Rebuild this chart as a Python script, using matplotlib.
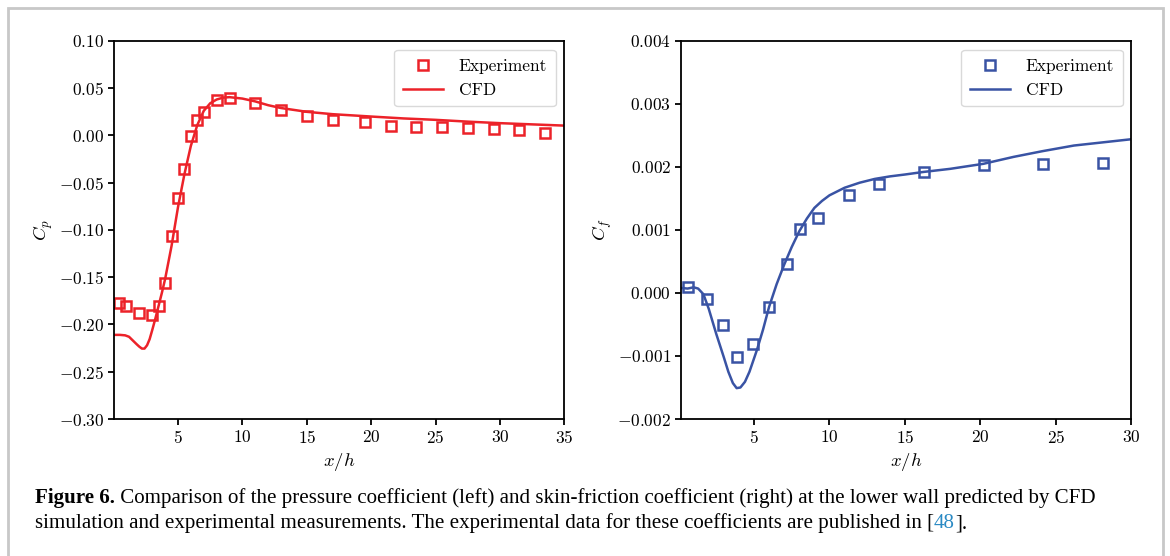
import numpy as np
import matplotlib
matplotlib.use("Agg")
import matplotlib.pyplot as plt
from matplotlib.patches import Rectangle
from matplotlib.ticker import FuncFormatter

plt.rcParams["font.family"] = "serif"
plt.rcParams["font.serif"] = ["cmr10"]
plt.rcParams["mathtext.fontset"] = "cm"
plt.rcParams["axes.formatter.use_mathtext"] = True

RED = "#ec2229"
BLUE = "#3953a4"

# pressure coefficient, lower wall
cp_exp_x = [0.44, 1.0, 2.0, 3.0, 3.5, 4.0, 4.5, 5.0, 5.5, 6.0, 6.5, 7.0, 8.0, 9.0,
            11.0, 13.0, 15.0, 17.0, 19.5, 21.5, 23.5, 25.5, 27.5, 29.5, 31.5, 33.5]
cp_exp = [-0.177, -0.180, -0.188, -0.190, -0.180, -0.156, -0.106, -0.066, -0.036,
          -0.001, 0.016, 0.025, 0.0376, 0.0397, 0.034, 0.027, 0.0206, 0.0164,
          0.0146, 0.0104, 0.009, 0.009, 0.0083, 0.0072, 0.0058, 0.0023]
cp_cfd_x = [0.03, 0.5, 0.9, 1.2, 1.5, 1.8, 2.0, 2.2, 2.4, 2.6, 2.8, 3.0, 3.25, 3.5,
            3.75, 4.0, 4.5, 5.0, 5.5, 6.0, 6.5, 7.0, 7.5, 8.0, 8.5, 9.0, 10.0,
            11.0, 12.0, 13.0, 14.0, 15.0, 17.0, 20.0, 22.5, 25.0, 27.5, 30.0,
            32.5, 35.0]
cp_cfd = [-0.211, -0.211, -0.2115, -0.213, -0.217, -0.221, -0.2235, -0.2255,
          -0.2255, -0.222, -0.2155, -0.206, -0.1935, -0.180, -0.1665, -0.152,
          -0.117, -0.076, -0.041, -0.011, 0.011, 0.026, 0.034, 0.038, 0.040,
          0.0405, 0.039, 0.036, 0.032, 0.029, 0.027, 0.025, 0.0225, 0.020, 0.018,
          0.0165, 0.0146, 0.013, 0.0117, 0.0104]

# skin-friction coefficient, lower wall
cf_exp_x = [0.6, 1.91, 2.92, 3.89, 4.91, 5.97, 7.21, 8.05, 9.27, 11.26, 13.25,
            16.23, 20.23, 24.14, 28.12]
cf_exp = [0.0001, -0.0001, -0.00051, -0.00101, -0.00081, -0.00022, 0.00046,
          0.00102, 0.00119, 0.00155, 0.00173, 0.00192, 0.00203, 0.00205, 0.00206]
cf_cfd_x = [0.16, 0.6, 1.0, 1.3, 1.65, 2.0, 2.5, 3.0, 3.3, 3.6, 3.85, 4.1, 4.4,
            4.7, 5.2, 5.6, 6.0, 6.5, 7.0, 7.5, 8.0, 8.5, 9.0, 9.5, 10.0, 11.0,
            12.0, 13.0, 14.0, 15.0, 16.2, 18.0, 20.2, 22.2, 24.1, 26.2, 28.1, 30.0]
cf_cfd = [0.00008, 0.00007, 0.00009, 0.00007, -0.00002, -0.00025, -0.00065,
          -0.00102, -0.00125, -0.00143, -0.00151, -0.00150, -0.00141, -0.00125,
          -0.00090, -0.00058, -0.00022, 0.00014, 0.00045, 0.00073, 0.00098,
          0.00118, 0.00135, 0.00146, 0.00155, 0.00167, 0.00175, 0.00181, 0.00185,
          0.00188, 0.00192, 0.00197, 0.00205, 0.00216, 0.00225, 0.00234, 0.00239,
          0.00244]


def tick_fmt(decimals):
    def f(v, pos):
        v = round(v, decimals)
        if v == 0:
            v = 0.0
        return "$%.*f$" % (decimals, v)
    return FuncFormatter(f)


fig = plt.figure(figsize=(11.7, 5.56), dpi=100)
ax1 = fig.add_axes([0.0974, 0.2464, 0.385, 0.680])
ax2 = fig.add_axes([0.582, 0.2464, 0.385, 0.680])


def style(ax):
    for s in ax.spines.values():
        s.set_linewidth(1.3)
    ax.tick_params(direction="out", length=4, width=1.3, labelsize=12.5, pad=3)


leg_kw = dict(loc="upper right", fontsize=12.5, handlelength=2.3, borderpad=0.5,
              handletextpad=0.9, edgecolor="#d0d0d0")

ax1.plot(cp_exp_x, cp_exp, "s", ms=7, mfc="none", mec=RED, mew=1.8, label="Experiment")
ax1.plot(cp_cfd_x, cp_cfd, "-", color=RED, lw=1.8, label="CFD")
ax1.set_xlim(0.03, 35)
ax1.set_ylim(-0.30, 0.10)
ax1.set_xticks([5, 10, 15, 20, 25, 30, 35])
ax1.xaxis.set_major_formatter(tick_fmt(0))
ax1.set_yticks(np.arange(-0.30, 0.101, 0.05))
ax1.yaxis.set_major_formatter(tick_fmt(2))
ax1.set_xlabel("$x/h$", fontsize=13.5)
ax1.set_ylabel("$C_p$", fontsize=13.5, labelpad=3)
style(ax1)
ax1.legend(**leg_kw)

ax2.plot(cf_exp_x, cf_exp, "s", ms=7, mfc="none", mec=BLUE, mew=1.8, label="Experiment")
ax2.plot(cf_cfd_x, cf_cfd, "-", color=BLUE, lw=1.8, label="CFD")
ax2.set_xlim(0.16, 30)
ax2.set_ylim(-0.002, 0.004)
ax2.set_xticks([5, 10, 15, 20, 25, 30])
ax2.xaxis.set_major_formatter(tick_fmt(0))
ax2.set_yticks(np.arange(-0.002, 0.0041, 0.001))
ax2.yaxis.set_major_formatter(tick_fmt(3))
ax2.set_xlabel("$x/h$", fontsize=13.5)
ax2.set_ylabel("$C_f$", fontsize=13.5, labelpad=2)
style(ax2)
ax2.legend(**leg_kw)

# page frame
fig.patches.append(Rectangle((8 / 1170, -0.1), 1155 / 1170, 1.1 - 7.5 / 556,
                             transform=fig.transFigure, fill=False,
                             edgecolor="#c8c8c8", lw=2))

# caption, written piece by piece
cap_font = "Liberation Serif"
cap_size = 15.1
fig.canvas.draw()
renderer = fig.canvas.get_renderer()


def write_line(pieces, x, y):
    for txt, weight, color in pieces:
        t = fig.text(x, y, txt, fontsize=cap_size, family=cap_font,
                     weight=weight, color=color, va="baseline")
        bb = t.get_window_extent(renderer)
        x = x + bb.width / fig.bbox.width


line1 = [("Figure 6.", "bold", "black"),
         (" Comparison of the pressure coefficient (left) and skin-friction coefficient "
          "(right) at the lower wall predicted by CFD", "normal", "black")]
line2 = [("simulation and experimental measurements. The experimental data for these "
          "coefficients are published in [", "normal", "black"),
         ("48", "normal", "#2a8ac4"),
         ("].", "normal", "black")]
write_line(line1, 35 / 1170, 1 - 503 / 556)
write_line(line2, 35 / 1170, 1 - 528 / 556)

fig.savefig("out.png", dpi=100)
